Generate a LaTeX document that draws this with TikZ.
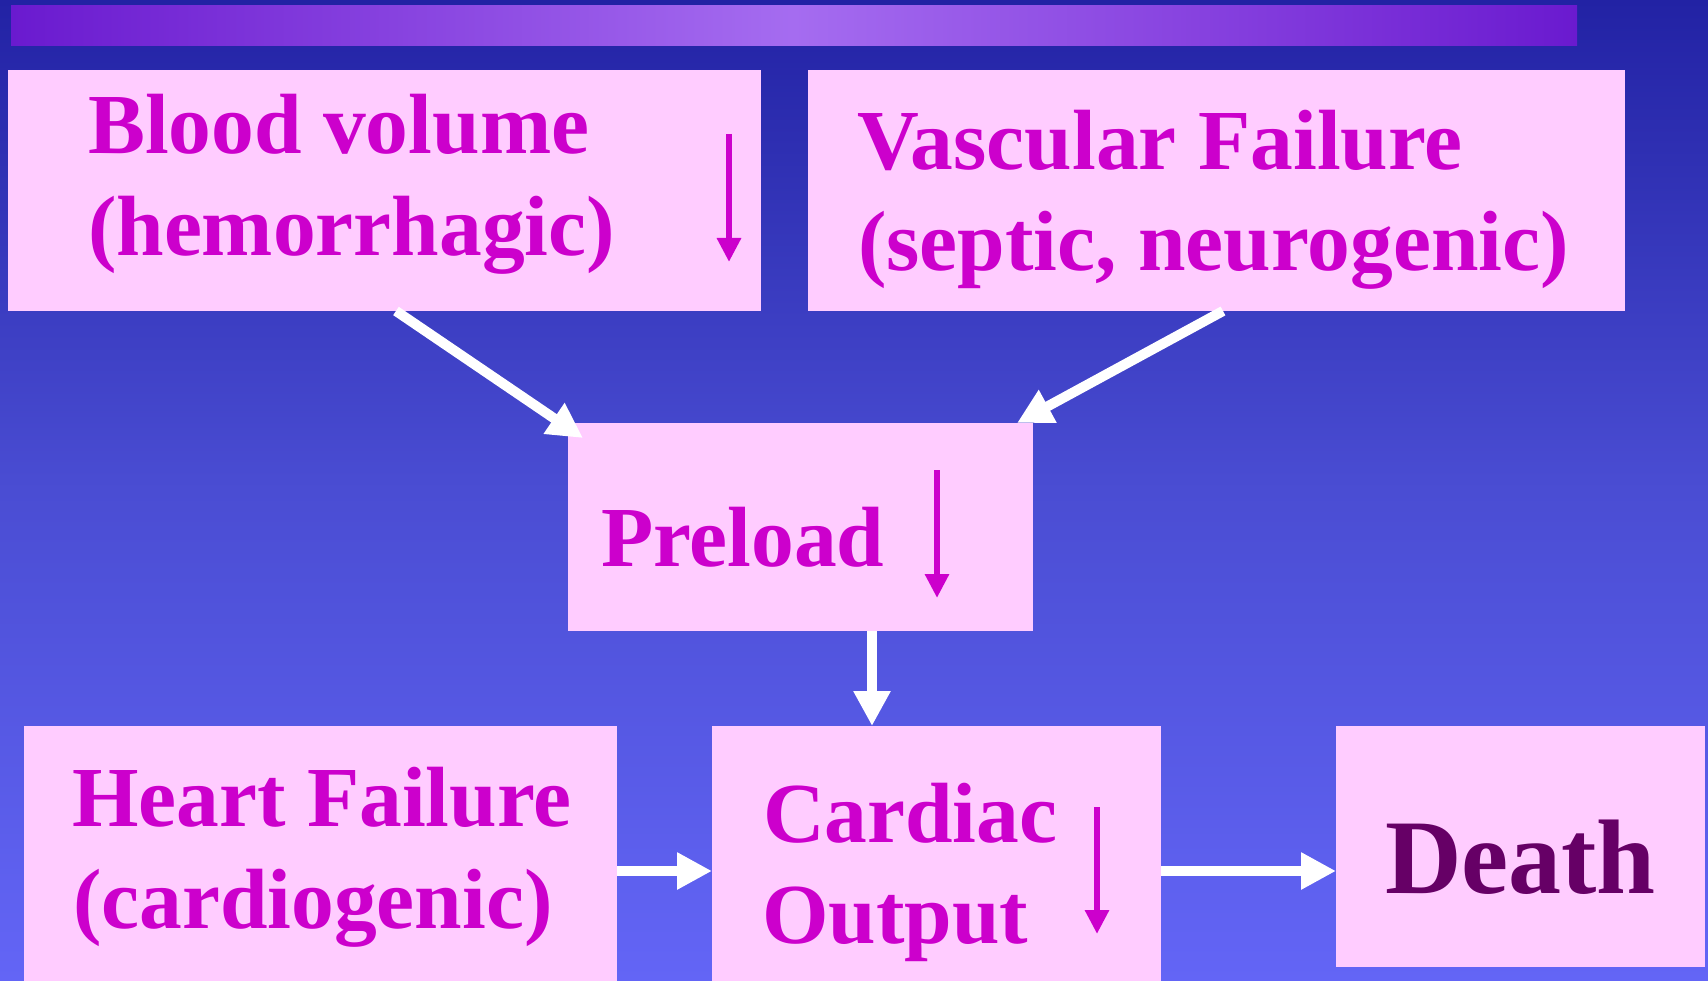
\documentclass[tikz,border=0pt]{standalone}
\usepackage{fontspec}
\setmainfont{Liberation Serif}
\usetikzlibrary{arrows.meta}
\definecolor{bgtop}{RGB}{34,34,164}
\definecolor{bgmid}{RGB}{74,77,211}
\definecolor{bgbot}{RGB}{99,101,246}
\definecolor{baredge}{RGB}{106,26,207}
\definecolor{barmid}{RGB}{165,108,240}
\definecolor{boxpink}{RGB}{255,204,255}
\definecolor{txtmag}{RGB}{204,0,204}
\definecolor{txtdeath}{RGB}{102,0,102}
\tikzset{
  box/.style={fill=boxpink, draw=none, inner sep=0pt, outer sep=0pt, anchor=north west},
  lbl/.style={anchor=base west, inner sep=0pt, outer sep=0pt, text=txtmag, font=\fontsize{85.5}{96}\selectfont\bfseries},
  flow/.style={draw=white, line width=10pt, -{Triangle[width=35pt,length=35pt]}},
  downmark/.style={draw=txtmag, line width=6pt, -{Triangle[width=23pt,length=24pt]}}
}
\begin{document}
\begin{tikzpicture}[x=1pt,y=-1pt]
\useasboundingbox (0,0) rectangle (1708,981);
\shade[top color=bgtop, bottom color=bgbot, middle color=bgmid] (0,0) rectangle (1708,981);
% top bar
\shade[left color=baredge, right color=baredge, middle color=barmid] (11,6) rectangle (1577,46);
% boxes
\node[box, minimum width=753pt, minimum height=241pt] (blood) at (8,70) {};
\node[box, minimum width=817pt, minimum height=241pt] (vasc) at (808,70) {};
\node[box, minimum width=465pt, minimum height=208pt] (preload) at (568,423) {};
\node[box, minimum width=593pt, minimum height=255pt] (heart) at (24,726) {};
\node[box, minimum width=449pt, minimum height=255pt] (cardiac) at (712,726) {};
\node[box, minimum width=369pt, minimum height=241pt] (death) at (1336,726) {};
% texts
\node[lbl] (bloodA) at (88,154) {Blood volume};
\node[lbl] (bloodB) at (88,256) {(hemorrhagic)};
\node[lbl] (vascA) at (857,170) {Vascular Failure};
\node[lbl] (vascB) at (858,271) {(septic, neurogenic)};
\node[lbl] (preT) at (601,566) {Preload};
\node[lbl] (heartA) at (72,826) {Heart Failure};
\node[lbl] (heartB) at (73,928) {(cardiogenic)};
\node[lbl] (cardA) at (763,842) {Cardiac};
\node[lbl] (cardB) at (762,943) {Output};
\node[anchor=base, inner sep=0pt, text=txtdeath, font=\fontsize{106}{116}\selectfont\bfseries] (deathT) at (1520.5,893) {Death};
% small decrease marks
\draw[downmark] (729,134) -- (729,262);
\draw[downmark] (937,470) -- (937,598);
\draw[downmark] (1097,807) -- (1097,934);
% connectors
\draw[flow] ([xshift=11.5pt]blood.south) -- ([xshift=15pt,yshift=-15pt]preload.north west);
\draw[flow] ([xshift=6.5pt]vasc.south) -- ([xshift=-16pt]preload.north east);
\draw[flow] ([xshift=71.5pt]preload.south) -- ([xshift=71.5pt]preload.south |- cardiac.north);
\draw[flow] ([yshift=-17.5pt]heart.east) -- ([yshift=-17.5pt]heart.east -| cardiac.west);
\draw[flow] ([yshift=-17.5pt]cardiac.east) -- ([yshift=-17.5pt]cardiac.east -| death.west);
\end{tikzpicture}
\end{document}
